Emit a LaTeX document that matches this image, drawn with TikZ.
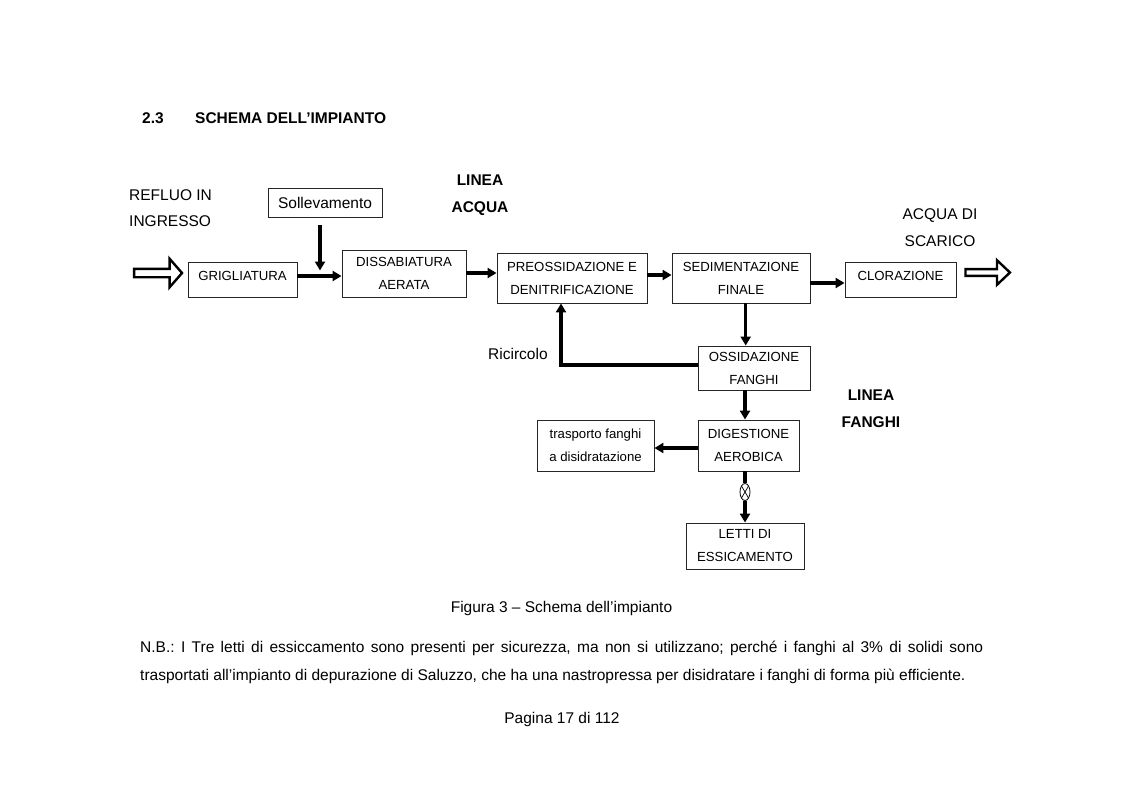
\documentclass[tikz,border=0pt]{standalone}
\usepackage{fontspec}
\setmainfont{Liberation Sans}
\usetikzlibrary{arrows.meta,shapes.geometric}
\frenchspacing
\begin{document}
\begin{tikzpicture}[x=1pt,y=-1pt,
  box/.style={draw=black!85,line width=0.9pt,inner sep=0pt,align=center,
    font=\fontsize{13.2}{23}\selectfont},
  onebox/.style={box,text height=18.65pt,text depth=16.35pt},
  flow/.style={line width=3.2pt,-{Triangle[length=9pt,width=10pt]}},
  pipe/.style={line width=3.2pt},
  openarrow/.style={draw=black,line width=2.4pt,fill=white,line join=miter},
  big/.style={font=\fontsize{15.5}{18}\selectfont},
  bigb/.style={font=\fontsize{15.5}{18}\selectfont\bfseries},
  txt/.style={inner sep=0pt}
]
\fill[white] (0,0) rectangle (1123,793);
\path[use as bounding box] (0,0) rectangle (1123,793);

% heading
\node[txt,bigb,anchor=base west] (hnum) at (142,123.5) {2.3};
\node[txt,bigb,anchor=base west] (htitle) at (195,123.5) {SCHEMA DELL’IMPIANTO};

% free labels
\node[txt,big,anchor=base west] (refl1) at (129,200) {REFLUO IN};
\node[txt,big,anchor=base west] (refl2) at (129,226) {INGRESSO};
\node[txt,bigb,anchor=base] (la1) at (480,185) {LINEA};
\node[txt,bigb,anchor=base] (la2) at (480,212) {ACQUA};
\node[txt,big,anchor=base] (sc1) at (940,219.5) {ACQUA DI};
\node[txt,big,anchor=base] (sc2) at (940,246.5) {SCARICO};
\node[txt,bigb,anchor=base] (lf1) at (871,400.5) {LINEA};
\node[txt,bigb,anchor=base] (lf2) at (871,427.5) {FANGHI};
\node[txt,big,anchor=base west] (ric) at (488,359) {Ricircolo};

% boxes
\node[onebox,minimum width=109pt,minimum height=35pt] (grig) at (242.5,279.5) {GRIGLIATURA};
\node[box,font=\fontsize{15.5}{18}\selectfont,minimum width=114pt,minimum height=29pt] (soll) at (325,202.5) {Sollevamento};
\node[box,minimum width=124pt,minimum height=47pt] (diss) at (404,273.5) {DISSABIATURA\\AERATA};
\node[box,minimum width=150pt,minimum height=50pt] (preoss) at (572,278) {PREOSSIDAZIONE E\\DENITRIFICAZIONE};
\node[box,minimum width=138pt,minimum height=50pt] (sed) at (741,278) {SEDIMENTAZIONE\\FINALE};
\node[onebox,minimum width=111pt,minimum height=35pt] (clor) at (900.5,279.5) {CLORAZIONE};
\node[box,minimum width=112pt,minimum height=44pt] (oss) at (754,368) {OSSIDAZIONE\\FANGHI};
\node[box,minimum width=101pt,minimum height=51pt] (dig) at (748.5,445.5) {DIGESTIONE\\AEROBICA};
\node[box,minimum width=117pt,minimum height=51pt] (tra) at (595.5,445.5) {trasporto fanghi\\a disidratazione};
\node[box,minimum width=118pt,minimum height=46pt] (letti) at (745,546) {LETTI DI\\ESSICAMENTO};

% open arrows
\coordinate (inTip) at ([xshift=-5.5pt,yshift=6.5pt]grig.west);
\draw[openarrow,shift={(inTip)}] (0,0) -- (-12.5,-14.3) -- (-12.5,-4.2) -- (-48,-4.2)
  -- (-48,4.2) -- (-12.5,4.2) -- (-12.5,14.3) -- cycle;
\coordinate (outTail) at ([xshift=9pt,yshift=7pt]clor.east);
\draw[openarrow,shift={(outTail)}] (0,-3.4) -- (31.5,-3.4) -- (31.5,-12.3) -- (44.5,0)
  -- (31.5,12.3) -- (31.5,3.4) -- (0,3.4) -- cycle;

% flows on the water line
\coordinate (j) at ([yshift=3.5pt]grig.east -| 320,0);
\draw[flow] ([yshift=3.5pt]grig.east) -- ([yshift=3.5pt]grig.east -| diss.west);
\draw[flow] ([xshift=-5pt,yshift=-8pt]soll.south) -- ([yshift=5.5pt]j);
\draw[flow] ([yshift=0.5pt]diss.east) -- ([yshift=0.5pt]diss.east -| preoss.west);
\draw[flow] ([yshift=3pt]preoss.east) -- ([yshift=3pt]preoss.east -| sed.west);
\draw[flow] ([yshift=-5pt]sed.east) -- ([yshift=-5pt]sed.east -| clor.west);

% sludge line
\draw[flow] ([xshift=4.7pt]sed.south) -- ([xshift=4.7pt]sed.south |- oss.north);
\draw[flow] ([yshift=3pt]oss.west) -| ([xshift=-11pt]preoss.south);
\draw[flow] ([xshift=-9pt]oss.south) -- ([xshift=-9pt]oss.south |- dig.north);
\draw[flow] ([yshift=-2.5pt]dig.west) -- ([yshift=-2.5pt]dig.west -| tra.east);

\node[ellipse,draw=black,line width=0.8pt,fill=white,minimum width=10pt,minimum height=17pt,inner sep=0pt,
  path picture={\draw[line width=0.7pt] (path picture bounding box.south west) -- (path picture bounding box.north east)
     (path picture bounding box.north west) -- (path picture bounding box.south east);}]
  (valve) at (745,492) {};
\draw[pipe] ([xshift=-3.5pt]dig.south) -- (valve.north);
\draw[flow] (valve.south) -- (letti.north);

% caption and notes
\node[txt,big,anchor=base] (cap) at (561.5,612.5) {Figura 3 – Schema dell’impianto};
\node[txt,big,anchor=base west] (nb1) at (140,652.5) {\makebox[843pt][s]{N.B.: I Tre letti di essiccamento sono presenti per sicurezza, ma non si utilizzano; perché i fanghi al 3\% di solidi sono}};
\node[txt,big,anchor=base west] (nb2) at (140,680.5) {trasportati all’impianto di depurazione di Saluzzo, che ha una nastropressa per disidratare i fanghi di forma più efficiente.};
\node[txt,big,anchor=base] (pag) at (562,723.5) {Pagina 17 di 112};
\end{tikzpicture}
\end{document}
